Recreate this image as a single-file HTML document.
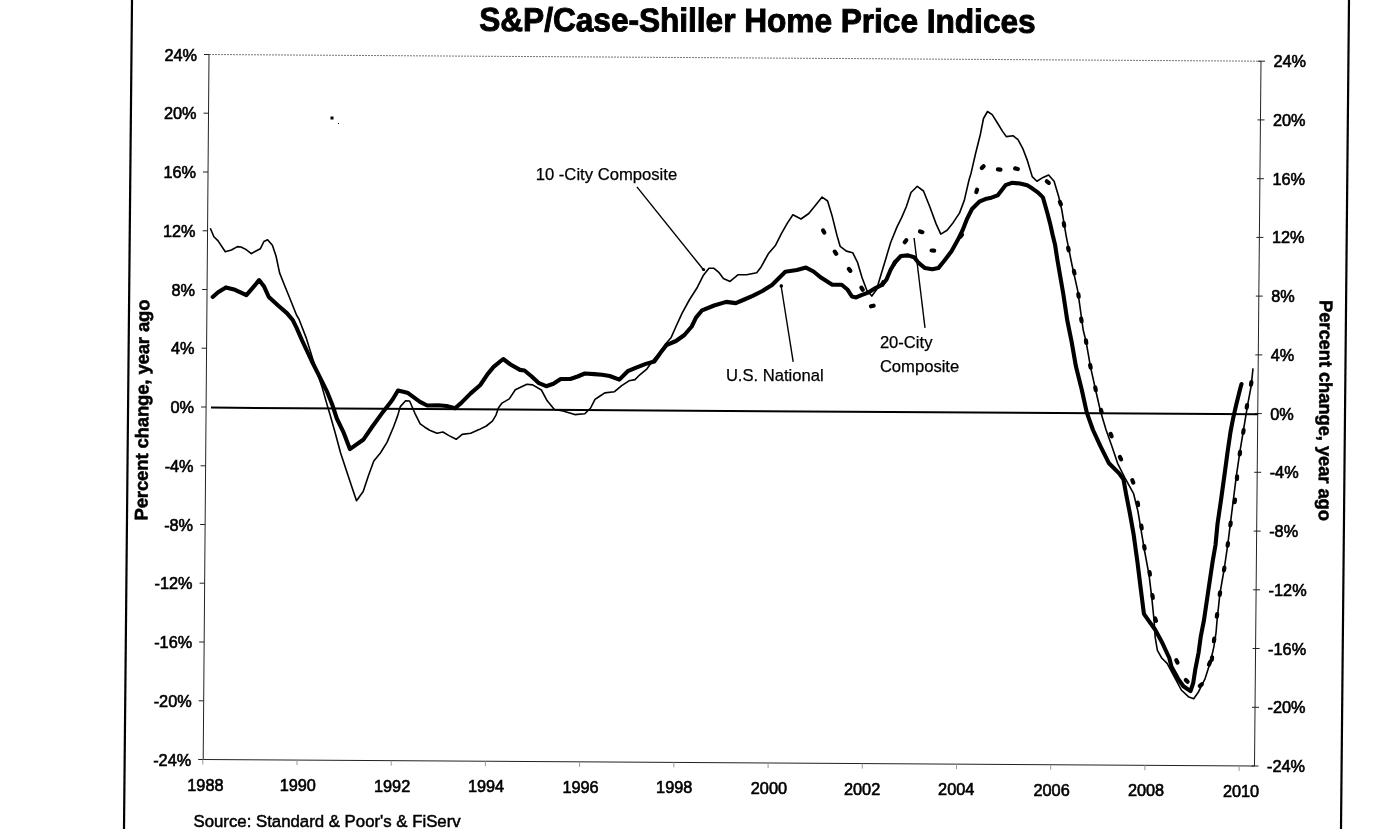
<!DOCTYPE html>
<html><head><meta charset="utf-8"><title>S&amp;P/Case-Shiller Home Price Indices</title>
<style>
html,body{margin:0;padding:0;background:#fff;}
body{width:1376px;height:829px;overflow:hidden;}
svg{display:block;}
text{font-family:"Liberation Sans",Arial,sans-serif;fill:#000;stroke:#000;stroke-width:0.5px;}
.tk text{stroke-width:0.6px;}
.an text{stroke-width:0.25px;}
</style></head><body>
<svg width="1376" height="829" viewBox="0 0 1376 829">
<rect width="1376" height="829" fill="#fff"/>
<!-- outer scan edges -->
<line x1="132" y1="0" x2="124" y2="829" stroke="#000" stroke-width="2.2"/>
<line x1="1349" y1="0" x2="1341" y2="829" stroke="#000" stroke-width="2.2"/>
<!-- title -->
<text x="479.3" y="31.8" font-size="31.6" font-weight="bold" style="stroke-width:0.9px" transform="rotate(0.2 756 20) translate(0 31.8) scale(1 1.05) translate(0 -31.8)">S&amp;P/Case-Shiller Home Price Indices</text>
<!-- frame -->
<g stroke="#222" stroke-width="1" fill="none">
<line x1="209" y1="54.5" x2="1261" y2="61.2" stroke="#777" stroke-dasharray="2 1"/>
<line x1="209" y1="54.5" x2="203.2" y2="759.5"/>
<line x1="1261" y1="61.2" x2="1254.5" y2="766"/>
<line x1="203.2" y1="759.5" x2="1254.5" y2="766"/>
<line x1="204.0" y1="54.5" x2="209.0" y2="54.5"/><line x1="203.5" y1="113.2" x2="208.5" y2="113.2"/><line x1="203.0" y1="172.0" x2="208.0" y2="172.0"/><line x1="202.6" y1="230.8" x2="207.6" y2="230.8"/><line x1="202.1" y1="289.5" x2="207.1" y2="289.5"/><line x1="201.6" y1="348.2" x2="206.6" y2="348.2"/><line x1="201.1" y1="407.0" x2="206.1" y2="407.0"/><line x1="200.6" y1="465.8" x2="205.6" y2="465.8"/><line x1="200.1" y1="524.5" x2="205.1" y2="524.5"/><line x1="199.6" y1="583.2" x2="204.6" y2="583.2"/><line x1="199.2" y1="642.0" x2="204.2" y2="642.0"/><line x1="198.7" y1="700.8" x2="203.7" y2="700.8"/><line x1="198.2" y1="759.5" x2="203.2" y2="759.5"/>
<line x1="1258.0" y1="61.2" x2="1265.0" y2="61.2"/><line x1="1257.5" y1="119.9" x2="1264.5" y2="119.9"/><line x1="1256.9" y1="178.7" x2="1263.9" y2="178.7"/><line x1="1256.4" y1="237.4" x2="1263.4" y2="237.4"/><line x1="1255.8" y1="296.1" x2="1262.8" y2="296.1"/><line x1="1255.3" y1="354.9" x2="1262.3" y2="354.9"/><line x1="1254.8" y1="413.6" x2="1261.8" y2="413.6"/><line x1="1254.2" y1="472.3" x2="1261.2" y2="472.3"/><line x1="1253.7" y1="531.1" x2="1260.7" y2="531.1"/><line x1="1253.1" y1="589.8" x2="1260.1" y2="589.8"/><line x1="1252.6" y1="648.5" x2="1259.6" y2="648.5"/><line x1="1252.0" y1="707.3" x2="1259.0" y2="707.3"/><line x1="1251.5" y1="766.0" x2="1258.5" y2="766.0"/>
<g stroke="#999"><line x1="202.8" y1="759.5" x2="202.8" y2="764.5"/><line x1="297.0" y1="760.1" x2="297.0" y2="765.1"/><line x1="391.2" y1="760.7" x2="391.2" y2="765.7"/><line x1="485.4" y1="761.2" x2="485.4" y2="766.2"/><line x1="579.6" y1="761.8" x2="579.6" y2="766.8"/><line x1="673.8" y1="762.4" x2="673.8" y2="767.4"/><line x1="768.1" y1="763.0" x2="768.1" y2="768.0"/><line x1="862.3" y1="763.6" x2="862.3" y2="768.6"/><line x1="956.5" y1="764.2" x2="956.5" y2="769.2"/><line x1="1050.7" y1="764.7" x2="1050.7" y2="769.7"/><line x1="1144.9" y1="765.3" x2="1144.9" y2="770.3"/><line x1="1239.1" y1="765.9" x2="1239.1" y2="770.9"/></g>
</g>
<!-- zero line -->
<line x1="211" y1="407.6" x2="1258" y2="414.3" stroke="#000" stroke-width="2"/>
<!-- tick labels -->
<g class="tk" font-size="16.3">
<text x="197.0" y="60.5" text-anchor="end">24%</text><text x="196.5" y="119.2" text-anchor="end">20%</text><text x="196.0" y="178.0" text-anchor="end">16%</text><text x="195.6" y="236.8" text-anchor="end">12%</text><text x="195.1" y="295.5" text-anchor="end">8%</text><text x="194.6" y="354.2" text-anchor="end">4%</text><text x="194.1" y="413.0" text-anchor="end">0%</text><text x="193.6" y="471.8" text-anchor="end">-4%</text><text x="193.1" y="530.5" text-anchor="end">-8%</text><text x="192.6" y="589.2" text-anchor="end">-12%</text><text x="192.2" y="648.0" text-anchor="end">-16%</text><text x="191.7" y="706.8" text-anchor="end">-20%</text><text x="191.2" y="765.5" text-anchor="end">-24%</text>
<text x="1273.5" y="67.2">24%</text><text x="1273.0" y="125.9">20%</text><text x="1272.4" y="184.7">16%</text><text x="1271.9" y="243.4">12%</text><text x="1271.3" y="302.1">8%</text><text x="1270.8" y="360.9">4%</text><text x="1270.2" y="419.6">0%</text><text x="1269.7" y="478.3">-4%</text><text x="1269.2" y="537.1">-8%</text><text x="1268.6" y="595.8">-12%</text><text x="1268.1" y="654.5">-16%</text><text x="1267.5" y="713.3">-20%</text><text x="1267.0" y="772.0">-24%</text>
<text x="205.4" y="790.5" text-anchor="middle">1988</text><text x="297.8" y="791.1" text-anchor="middle">1990</text><text x="392.1" y="791.7" text-anchor="middle">1992</text><text x="486.0" y="792.2" text-anchor="middle">1994</text><text x="580.5" y="792.8" text-anchor="middle">1996</text><text x="674.2" y="793.4" text-anchor="middle">1998</text><text x="768.9" y="794.0" text-anchor="middle">2000</text><text x="862.1" y="794.6" text-anchor="middle">2002</text><text x="956.2" y="795.2" text-anchor="middle">2004</text><text x="1051.6" y="795.7" text-anchor="middle">2006</text><text x="1146.0" y="796.3" text-anchor="middle">2008</text><text x="1241.0" y="796.9" text-anchor="middle">2010</text>
</g>
<!-- axis titles -->
<text font-size="18.4" font-weight="bold" text-anchor="middle" transform="translate(148.4,410) rotate(-89.5)" textLength="221" lengthAdjust="spacing">Percent change, year ago</text>
<text font-size="18.4" font-weight="bold" text-anchor="middle" transform="translate(1319.2,410.5) rotate(90.3)" textLength="221" lengthAdjust="spacing">Percent change, year ago</text>
<!-- source -->
<text x="193.5" y="826.6" font-size="16.8">Source: Standard &amp; Poor's &amp; FiServ</text>
<!-- data -->
<polyline points="210.3,228.3 213.9,236.7 218.1,240.9 225.3,251.8 231.4,250.0 237.4,246.6 241.0,247.0 245.8,249.4 251.3,253.6 255.5,251.2 260.3,248.8 263.9,241.5 267.6,239.7 272.4,245.2 276.0,256.0 279.6,272.9 284.4,285.0 289.3,297.0 296.5,315.0 298.8,318.8 306.1,337.6 313.3,360.8 322.0,386.9 327.8,407.2 330.0,414.6 335.3,433.2 340.6,453.0 345.9,469.0 351.2,484.9 356.5,500.8 363.2,491.5 368.5,475.6 373.8,461.0 380.4,453.0 387.0,442.4 393.7,426.5 397.6,415.9 400.3,406.6 405.6,400.8 409.6,401.0 414.9,413.3 420.2,423.9 424.8,427.2 429.7,430.2 436.9,433.2 442.9,432.0 449.0,435.6 456.2,439.3 462.2,434.4 470.7,433.2 479.1,429.6 486.3,426.0 492.4,421.2 496.0,415.1 498.4,407.9 502.0,403.1 509.3,398.9 515.3,389.8 526.9,384.2 532.7,384.9 541.4,390.0 547.2,400.8 554.4,409.5 563.1,411.0 574.7,414.6 584.8,413.8 590.6,408.0 595.0,399.4 599.3,396.5 604.8,392.9 614.5,391.7 621.7,385.6 629.0,380.8 635.0,379.6 639.8,374.8 647.0,368.8 653.1,360.3 659.1,353.1 665.1,344.6 671.2,337.4 676.0,326.5 682.0,313.3 689.3,300.0 697.4,287.2 703.2,275.6 709.0,268.3 714.0,268.3 719.1,272.7 723.4,278.5 730.0,281.4 737.9,274.8 746.6,274.8 756.7,272.7 761.1,266.9 768.3,253.8 775.6,245.2 781.4,233.6 787.2,223.4 792.9,214.8 801.0,219.0 808.8,213.5 815.1,205.7 822.1,197.1 827.6,201.0 832.3,216.6 837.0,235.5 840.2,246.4 846.4,251.1 852.7,252.7 857.4,262.1 862.1,277.8 866.8,290.3 871.8,296.1 876.5,289.8 881.2,274.1 885.9,258.4 890.6,242.7 896.9,227.1 901.6,217.6 906.3,206.7 911.0,192.5 917.3,186.3 923.5,191.0 929.8,206.7 936.1,223.9 940.8,234.1 947.1,230.2 953.3,222.4 959.6,212.9 964.3,200.4 969.0,180.0 971.0,173.4 975.7,153.0 980.4,134.2 983.5,118.5 987.5,111.5 992.2,114.6 997.6,123.2 1002.4,131.1 1006.3,136.6 1013.3,135.8 1018.0,139.7 1022.7,148.3 1027.5,160.9 1032.2,176.6 1036.9,181.3 1043.1,177.4 1048.6,175.0 1054.1,181.3 1058.8,197.0 1061.8,210.0 1066.2,236.1 1072.0,265.0 1077.8,291.1 1083.2,330.0 1086.1,341.7 1090.4,366.3 1095.5,389.5 1100.5,411.2 1106.1,430.0 1111.8,445.9 1117.6,463.3 1124.9,477.8 1133.6,493.7 1137.9,511.1 1140.8,528.4 1144.4,550.0 1149.0,574.7 1151.8,597.9 1154.0,619.6 1155.2,637.4 1157.4,650.4 1161.7,658.0 1167.1,663.4 1175.0,678.0 1181.3,690.0 1188.9,697.1 1193.7,698.7 1198.6,691.7 1205.1,678.6 1210.6,661.3 1213.8,647.1 1216.0,633.0 1217.1,620.0 1219.9,593.6 1224.2,569.0 1227.8,544.3 1230.5,522.6 1233.4,499.4 1236.3,476.3 1239.9,451.7 1243.5,430.0 1247.6,405.1 1251.2,385.8 1253.0,368.3" fill="none" stroke="#000" stroke-width="1.6" stroke-linejoin="round"/>
<polyline points="212.7,297.0 218.1,292.2 225.9,287.4 235.0,289.8 246.4,295.2 253.1,287.4 259.1,280.1 263.9,286.2 268.8,297.0 278.4,305.8 286.9,313.1 292.9,320.3 296.5,327.6 302.1,340.5 311.7,361.0 320.2,377.9 327.4,392.4 332.2,404.4 336.8,418.5 343.3,431.8 349.9,449.1 363.2,439.8 372.4,426.5 383.0,411.9 392.3,400.0 398.0,390.5 407.4,392.7 420.0,401.9 427.2,405.5 438.1,405.2 446.5,406.0 455.0,408.3 461.0,403.1 470.7,393.4 480.3,385.0 487.6,374.1 493.6,366.9 503.2,359.0 510.5,364.5 520.0,369.9 524.5,370.5 531.7,376.5 539.0,383.2 546.2,386.2 553.4,383.8 560.7,379.0 570.3,379.0 577.6,376.5 584.8,373.5 594.4,374.1 602.0,374.8 609.7,376.0 619.3,379.6 627.7,371.2 636.2,367.6 645.8,363.9 654.3,361.5 660.3,353.1 666.3,345.2 676.0,341.0 684.4,335.0 691.7,326.5 696.0,317.6 702.1,310.3 714.1,305.5 726.2,301.9 735.8,303.1 744.3,299.5 752.7,295.8 762.4,291.0 772.0,285.0 779.3,277.7 785.3,271.7 796.9,270.0 806.0,267.6 813.5,271.5 821.3,277.8 832.3,284.8 841.7,284.8 847.7,289.8 851.9,296.5 856.1,297.4 862.0,294.8 868.8,292.3 875.5,288.1 882.3,284.7 886.5,279.5 890.5,270.0 894.8,262.5 900.9,256.0 908.1,255.4 914.1,257.2 918.9,263.2 925.0,268.1 932.2,269.3 938.3,268.1 944.3,260.8 951.5,251.2 957.6,240.3 962.4,230.7 967.2,218.6 972.0,209.0 979.3,201.7 986.5,198.7 991.4,197.7 997.6,195.4 1005.5,185.2 1011.8,182.8 1020.0,183.5 1027.2,185.3 1032.1,188.3 1038.1,192.6 1042.9,197.4 1045.3,205.8 1047.7,214.3 1050.2,223.9 1052.6,234.8 1055.0,244.4 1057.4,260.0 1063.3,294.0 1067.2,320.0 1071.6,341.7 1075.9,366.3 1081.7,389.5 1086.8,412.6 1093.0,430.0 1100.3,445.9 1109.0,463.3 1119.1,473.4 1123.4,479.2 1126.3,495.1 1130.0,514.0 1133.6,534.2 1137.4,561.7 1141.0,590.7 1143.9,613.8 1149.0,621.1 1155.2,629.8 1161.7,641.7 1169.3,658.0 1171.5,666.7 1178.0,678.6 1183.4,686.2 1190.5,691.1 1193.2,683.0 1195.4,668.9 1198.6,652.6 1200.8,636.3 1204.0,620.0 1208.3,590.7 1212.6,561.7 1215.5,545.0 1217.5,524.0 1221.1,499.4 1224.7,473.4 1227.6,451.7 1230.5,432.0 1233.1,418.4 1236.7,402.7 1240.3,388.3 1241.5,384.0" fill="none" stroke="#000" stroke-width="4.1" stroke-linejoin="round" stroke-linecap="round"/>
<g stroke="#000" stroke-width="4.2" stroke-linecap="round">
<line x1="823.1" y1="230.4" x2="824.3" y2="232.6"/>
<line x1="834.8" y1="251.6" x2="836.2" y2="253.8"/>
<line x1="848.8" y1="268.9" x2="850.4" y2="270.9"/>
<line x1="861.4" y1="287.6" x2="862.8" y2="289.8"/>
<line x1="871.0" y1="306.3" x2="873.6" y2="305.7"/>
<line x1="882.1" y1="284.7" x2="883.3" y2="282.3"/>
<line x1="893.9" y1="264.2" x2="895.1" y2="262.0"/>
<line x1="904.7" y1="242.2" x2="906.3" y2="240.2"/>
<line x1="920.0" y1="231.4" x2="922.4" y2="232.2"/>
<line x1="931.6" y1="250.5" x2="934.2" y2="250.7"/>
<line x1="960.4" y1="236.7" x2="962.0" y2="234.7"/>
<line x1="976.3" y1="192.1" x2="977.1" y2="189.7"/>
<line x1="981.8" y1="168.1" x2="983.6" y2="166.3"/>
<line x1="997.9" y1="169.4" x2="1000.5" y2="169.6"/>
<line x1="1015.2" y1="168.4" x2="1017.8" y2="169.0"/>
<line x1="1046.8" y1="181.3" x2="1048.8" y2="182.9"/>
<line x1="1059.9" y1="202.0" x2="1060.9" y2="204.4"/>
<line x1="1063.8" y1="223.2" x2="1064.2" y2="225.8"/>
<line x1="1068.1" y1="247.7" x2="1068.7" y2="250.3"/>
<line x1="1073.9" y1="270.9" x2="1074.5" y2="273.5"/>
<line x1="1078.3" y1="294.1" x2="1078.7" y2="296.7"/>
<line x1="1081.2" y1="318.7" x2="1081.6" y2="321.3"/>
<line x1="1085.9" y1="340.4" x2="1086.3" y2="343.0"/>
<line x1="1090.1" y1="365.0" x2="1090.7" y2="367.6"/>
<line x1="1095.2" y1="387.5" x2="1095.8" y2="390.1"/>
<line x1="1100.9" y1="410.0" x2="1101.7" y2="412.4"/>
<line x1="1110.6" y1="433.9" x2="1111.6" y2="436.3"/>
<line x1="1119.9" y1="457.0" x2="1121.1" y2="459.4"/>
<line x1="1132.3" y1="480.2" x2="1133.3" y2="482.6"/>
<line x1="1137.7" y1="502.5" x2="1138.1" y2="505.1"/>
<line x1="1141.3" y1="525.7" x2="1141.7" y2="528.3"/>
<line x1="1144.2" y1="546.0" x2="1144.6" y2="548.6"/>
<line x1="1149.5" y1="572.0" x2="1149.9" y2="574.6"/>
<line x1="1152.4" y1="595.2" x2="1152.8" y2="597.8"/>
<line x1="1155.0" y1="618.4" x2="1156.0" y2="620.8"/>
<line x1="1176.3" y1="660.1" x2="1177.5" y2="662.5"/>
<line x1="1185.8" y1="679.9" x2="1187.6" y2="681.7"/>
<line x1="1199.8" y1="685.9" x2="1201.8" y2="684.3"/>
<line x1="1209.0" y1="664.6" x2="1210.0" y2="662.2"/>
<line x1="1211.7" y1="660.0" x2="1212.1" y2="657.4"/>
<line x1="1213.9" y1="641.2" x2="1214.3" y2="638.6"/>
<line x1="1216.8" y1="616.6" x2="1217.2" y2="614.0"/>
<line x1="1219.7" y1="594.9" x2="1220.1" y2="592.3"/>
<line x1="1224.0" y1="570.3" x2="1224.4" y2="567.7"/>
<line x1="1227.6" y1="545.6" x2="1228.0" y2="543.0"/>
<line x1="1230.3" y1="525.3" x2="1230.7" y2="522.7"/>
<line x1="1234.6" y1="502.2" x2="1235.0" y2="499.6"/>
<line x1="1236.9" y1="479.0" x2="1237.1" y2="476.4"/>
<line x1="1239.7" y1="454.4" x2="1240.1" y2="451.8"/>
<line x1="1243.2" y1="432.8" x2="1243.6" y2="430.2"/>
<line x1="1246.7" y1="407.6" x2="1247.1" y2="405.0"/>
<line x1="1251.0" y1="384.7" x2="1251.4" y2="382.1"/>
</g>
<!-- annotations -->
<g stroke="#000" stroke-width="1.4">
<line x1="636.9" y1="186.9" x2="704.3" y2="270.8"/>
<line x1="780.9" y1="284.5" x2="793.2" y2="361.9"/>
<line x1="914.1" y1="238" x2="925" y2="327.8"/>
</g>
<g class="an" font-size="16.6">
<text x="535.7" y="179.8" textLength="141.5" lengthAdjust="spacingAndGlyphs">10 -City Composite</text>
<text x="725.9" y="381.2">U.S. National</text>
<text x="879.9" y="348.4">20-City</text>
<text x="879.9" y="371.6">Composite</text>
</g>
<circle cx="781.3" cy="286" r="1.8" fill="#000"/>
<circle cx="703.5" cy="269.5" r="1.6" fill="#000"/>
<!-- specks -->
<rect x="330.5" y="116.5" width="3" height="3" fill="#000"/>
<rect x="338" y="123" width="1" height="1" fill="#000"/>
</svg>
</body></html>
